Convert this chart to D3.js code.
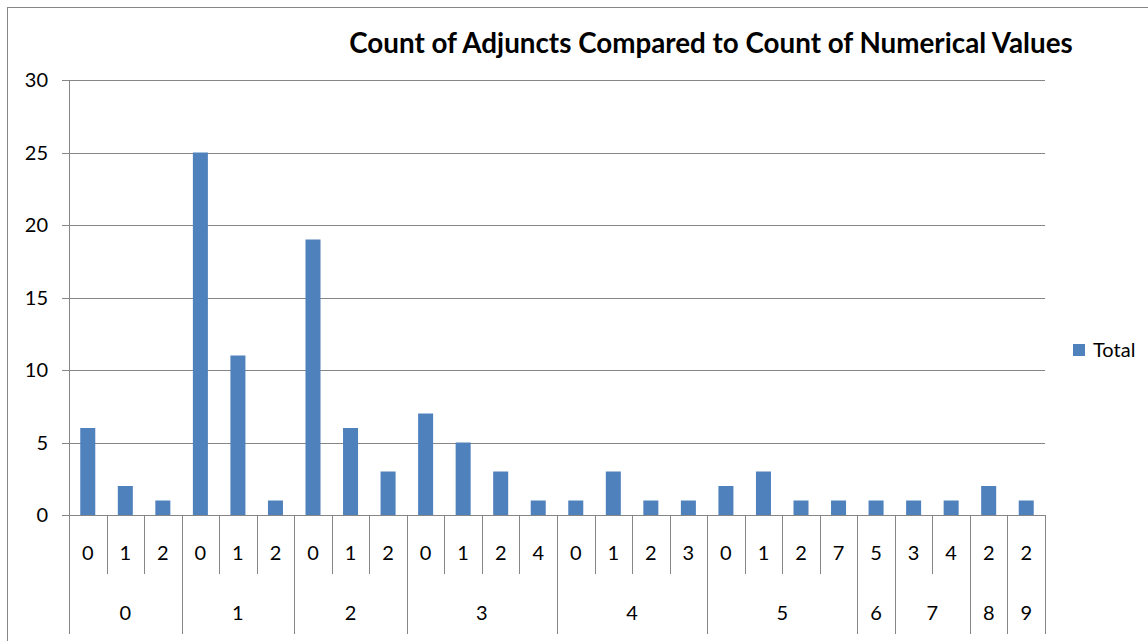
<!DOCTYPE html>
<html>
<head>
<meta charset="utf-8">
<script src="https://cdnjs.cloudflare.com/ajax/libs/d3/7.8.5/d3.min.js"></script>
<style>
  body { margin: 0; background: #fff; }
  text { font-family: Lato, "Open Sans", sans-serif; fill: #000; }
</style>
</head>
<body>
<svg id="chart" width="1148" height="641"></svg>
<script>
// outer category (adjunct count) and inner category (numerical values) for each bar
var groups = ["0", "1", "2", "3", "4", "5", "6", "7", "8", "9"];
var innerLabels = [
  ["0", "1", "2"],
  ["0", "1", "2"],
  ["0", "1", "2"],
  ["0", "1", "2", "4"],
  ["0", "1", "2", "3"],
  ["0", "1", "2", "7"],
  ["5"],
  ["3", "4"],
  ["2"],
  ["2"]
];
var totals = [
  [6, 2, 1],
  [25, 11, 1],
  [19, 6, 3],
  [7, 5, 3, 1],
  [1, 3, 1, 1],
  [2, 3, 1, 1],
  [1],
  [1, 1],
  [2],
  [1]
];
var yTicks = [0, 5, 10, 15, 20, 25, 30];
var title = "Count of Adjuncts Compared to Count of Numerical Values";
var seriesName = "Total";

var BAR = "#4F81BD", LINE = "#868686";
var LABEL_SIZE = "20px";

// flatten into one row per bar
var rows = [];
groups.forEach(function(g, gi){
  innerLabels[gi].forEach(function(lab, i){
    rows.push({ key: gi + "-" + i, group: g, gi: gi, label: lab, value: totals[gi][i] });
  });
});

var plotLeft = 69, plotRight = 1045, plotTop = 80, plotBottom = 515;
var svg = d3.select("#chart");

var x = d3.scaleBand().domain(rows.map(function(d){ return d.key; })).range([plotLeft, plotRight]).padding(0);
var y = d3.scaleLinear().domain([0, 30]).range([plotBottom, plotTop]);

// outer frame
svg.append("rect").attr("x", 7.5).attr("y", 7.5).attr("width", 1160).attr("height", 660)
  .attr("fill", "none").attr("stroke", LINE).attr("stroke-width", 1);

// gridlines + left ticks
svg.append("g").selectAll("line").data(yTicks).enter().append("line")
  .attr("x1", plotLeft - 7).attr("x2", plotRight)
  .attr("y1", function(d){ return Math.round(y(d)) + 0.5; })
  .attr("y2", function(d){ return Math.round(y(d)) + 0.5; })
  .attr("stroke", LINE);

svg.append("g").selectAll("text").data(yTicks).enter().append("text")
  .attr("x", 48).attr("y", function(d){ return y(d); })
  .attr("dy", "0.35em").attr("text-anchor", "end")
  .style("font-size", LABEL_SIZE)
  .text(function(d){ return d; });

// y axis line
svg.append("line").attr("x1", plotLeft + 0.5).attr("x2", plotLeft + 0.5)
  .attr("y1", plotTop).attr("y2", 634).attr("stroke", LINE);

// bars
var bw = x.bandwidth() / 2.5;
svg.append("g").selectAll("rect").data(rows).enter().append("rect")
  .attr("x", function(d){ return x(d.key) + (x.bandwidth() - bw) / 2; })
  .attr("y", function(d){ return y(d.value); })
  .attr("width", bw)
  .attr("height", function(d){ return y(0) - y(d.value); })
  .attr("fill", BAR);

// inner category separators and labels
var firstOfGroup = {};
rows.forEach(function(d, i){ if(i == 0 || rows[i-1].gi != d.gi) firstOfGroup[d.key] = true; });

svg.append("g").selectAll("line").data(rows.slice(1)).enter().append("line")
  .attr("x1", function(d){ return Math.round(x(d.key)) + 0.5; })
  .attr("x2", function(d){ return Math.round(x(d.key)) + 0.5; })
  .attr("y1", plotBottom)
  .attr("y2", function(d){ return firstOfGroup[d.key] ? 634 : 574; })
  .attr("stroke", LINE);
svg.append("line").attr("x1", plotRight + 0.5).attr("x2", plotRight + 0.5)
  .attr("y1", plotBottom).attr("y2", 634).attr("stroke", LINE);

svg.append("g").selectAll("text").data(rows).enter().append("text")
  .attr("x", function(d){ return x(d.key) + x.bandwidth() / 2; })
  .attr("y", 553).attr("dy", "0.35em").attr("text-anchor", "middle")
  .style("font-size", LABEL_SIZE)
  .text(function(d){ return d.label; });

// outer group labels
var groupSpans = groups.map(function(g, gi){
  var r = rows.filter(function(d){ return d.gi == gi; });
  return { label: g, x0: x(r[0].key), x1: x(r[r.length-1].key) + x.bandwidth() };
});
svg.append("g").selectAll("text").data(groupSpans).enter().append("text")
  .attr("x", function(d){ return (d.x0 + d.x1) / 2; })
  .attr("y", 613).attr("dy", "0.35em").attr("text-anchor", "middle")
  .style("font-size", LABEL_SIZE)
  .text(function(d){ return d.label; });

// title, scaled to the reference width
var t = svg.append("text").attr("x", 711).attr("y", 43).attr("dy", "0.35em")
  .attr("text-anchor", "middle").style("font-weight", "bold").style("font-size", "24px")
  .text(title);
var tw = t.node().getComputedTextLength();
t.style("font-size", (24 * 724 / tw) + "px");

// legend
svg.append("rect").attr("x", 1073).attr("y", 344).attr("width", 12).attr("height", 12).attr("fill", BAR);
svg.append("text").attr("x", 1093).attr("y", 350).attr("dy", "0.35em")
  .style("font-size", LABEL_SIZE).text(seriesName);
</script>
</body>
</html>
